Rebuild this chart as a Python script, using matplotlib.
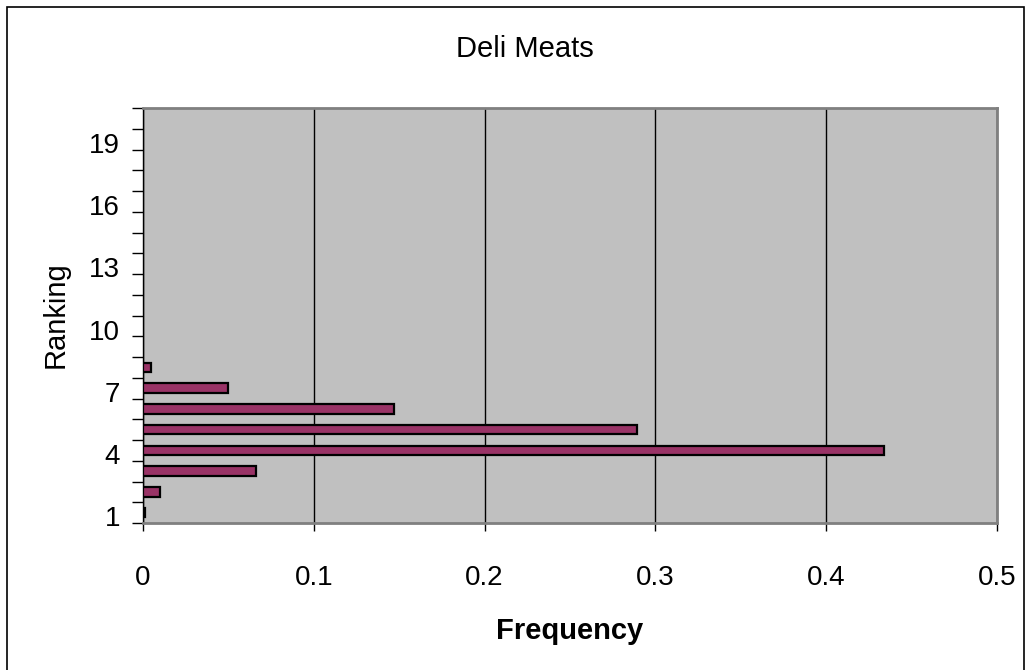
import matplotlib.pyplot as plt
from matplotlib.patches import Rectangle
from matplotlib.ticker import FixedLocator

plt.rcParams['font.family'] = ['Liberation Sans', 'DejaVu Sans']

# data
ranking = list(range(1, 21))
frequency = [0.001, 0.010, 0.066, 0.434, 0.289, 0.147, 0.050, 0.0045,
             0, 0, 0, 0, 0, 0, 0, 0, 0, 0, 0, 0]
label_ranks = [1, 4, 7, 10, 13, 16, 19]
x_ticks = [0, 0.1, 0.2, 0.3, 0.4, 0.5]

fig = plt.figure(figsize=(10.31, 6.70), dpi=100)
ax = fig.add_axes([143 / 1031, 1 - 523 / 670, (997 - 143) / 1031, (523 - 108) / 670])
ax.set_facecolor('#C0C0C0')

bars = [(r, f) for r, f in zip(ranking, frequency) if f > 0]
ax.barh([b[0] for b in bars], [b[1] for b in bars], height=0.45,
        color='#993366', edgecolor='black', linewidth=1.6, zorder=3)

ax.set_xlim(0, 0.5)
ax.set_ylim(0.5, 20.5)
ax.set_xticks(x_ticks)
ax.set_xticklabels([f"{t:g}" for t in x_ticks], fontsize=20)
ax.xaxis.grid(True, color='black', linewidth=1.0)
ax.set_axisbelow(True)
ax.tick_params(axis='x', length=6, width=1, pad=24)

# category axis: ticks between categories, labels in the middle
ax.yaxis.set_major_locator(FixedLocator([r + 0.5 for r in range(0, 21)]))
ax.set_yticklabels([])
ax.yaxis.set_minor_locator(FixedLocator([r - 0.18 for r in label_ranks]))
ax.set_yticklabels([str(r) for r in label_ranks], minor=True, fontsize=20)
ax.tick_params(axis='y', which='major', length=8, width=1)
ax.tick_params(axis='y', which='minor', length=0, pad=16.5)

for side in ['top', 'right', 'bottom']:
    ax.spines[side].set_color('#808080')
    ax.spines[side].set_linewidth(2)
ax.spines['left'].set_color('black')
ax.spines['left'].set_linewidth(1)

fig.text(525 / 1031, 1 - 49 / 670, "Deli Meats", ha='center', va='center', fontsize=21)
fig.text(570 / 1031, 1 - 631 / 670, "Frequency", ha='center', va='center',
         fontsize=21, fontweight='bold')
fig.text(56 / 1031, 1 - 315 / 670, "Ranking", ha='center', va='center',
         fontsize=21, rotation=90)

# outer chart frame
fig.patches.append(Rectangle((7 / 1031, -0.02), (1024 - 7) / 1031, 1 - 7 / 670 + 0.02,
                             transform=fig.transFigure, fill=False,
                             edgecolor='black', linewidth=1.2))

fig.savefig('out.png', dpi=100)
